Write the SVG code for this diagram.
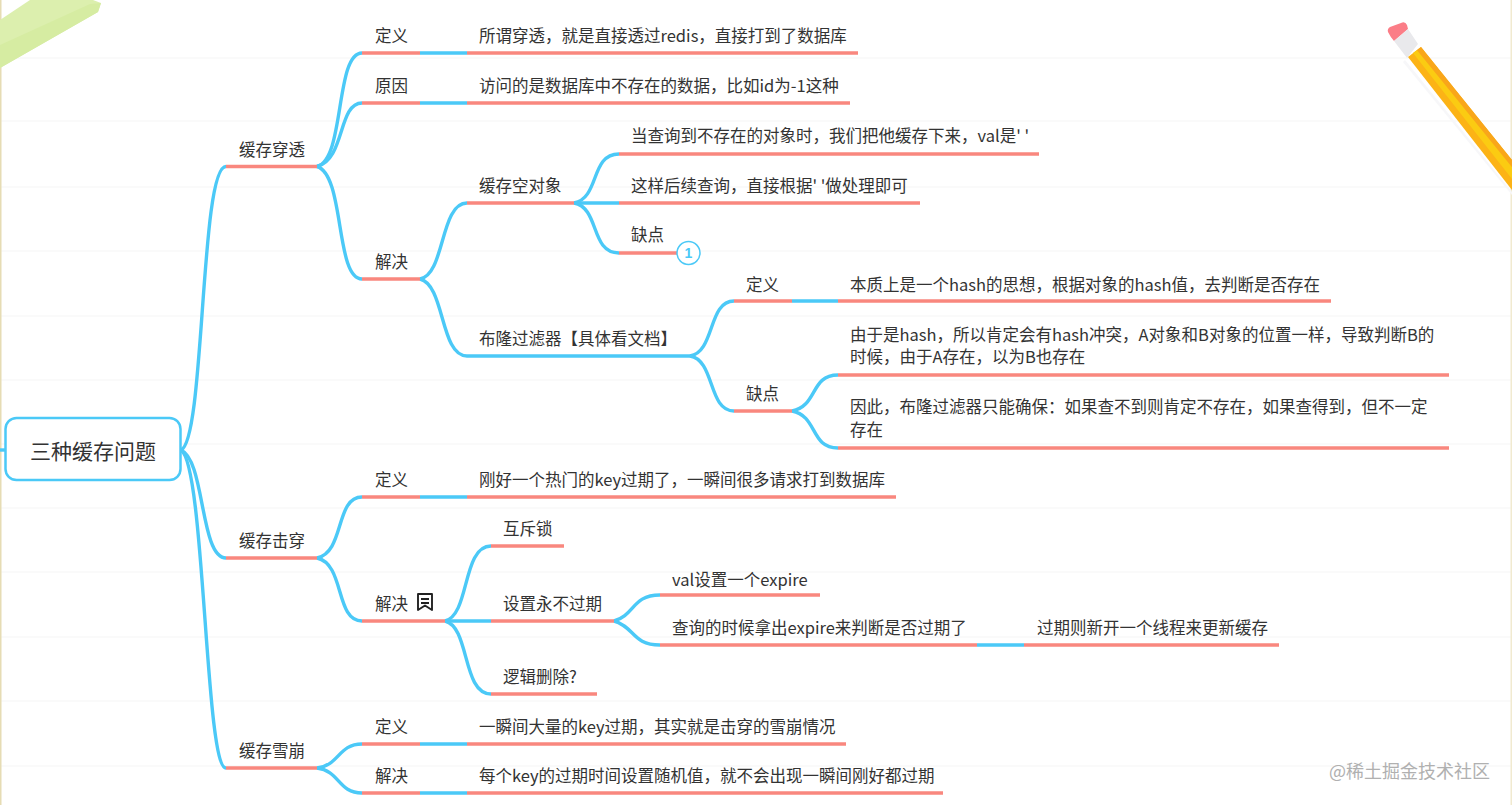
<svg xmlns="http://www.w3.org/2000/svg" width="1512" height="805" viewBox="0 0 1512 805">
<style>
text{font-family:"Noto Sans CJK SC","Liberation Sans",sans-serif;font-size:16.5px;fill:#333}
g[id^=n] text{transform:translateY(.8px)}
.c,.b,.r{fill:none;stroke-width:3.4}
.c,.b{stroke:#4bc9f7}
.r{stroke:#f9877e}
.g{stroke:#fafafa;stroke-width:2}
</style>
<rect width="1512" height="805" fill="#fff"/>
<g id="paper">
<path class="g" d="M0 58H1512M0 121H1512M0 187H1512M0 251H1512M0 316H1512M0 380H1512M0 444H1512M0 508H1512M0 572H1512M0 637H1512M0 701H1512M0 766H1512"/>
<rect x="0" y="0" width="1.500" height="805" fill="#e6dcb4"/>
<rect x="1510.500" y="0" width="1.500" height="805" fill="#f1ead0"/>
<path d="M0 20L30 0H93L101 3L98 12L0 68Z" fill="#dcefae"/>
<path d="M0 45L90 4L101 3L98 12L0 68Z" fill="#d6eca2"/>
<path d="M1405 60L1512 192V195L1403 62Z" fill="#f7f7f9"/>
<path d="M1388 32Q1387 29 1390 27L1401 23Q1405 21 1407 25L1408 29L1394 41Q1391 38 1388 32Z" fill="#fb7d87"/>
<path d="M1394 41L1408 29L1418 44L1407 58Z" fill="#e9e9ec"/>
<path d="M1408 57L1421 47L1512 160V190Z" fill="#fcb316"/>
<path d="M1413 53L1417 50L1512 167V179Z" fill="#fbcb12"/>
<path d="M1417 50L1421 47L1512 160V167Z" fill="#f9a61a"/>
</g>
<g id="connectors">
<path class="c" d="M181 450C205 440 200 166 226 166.500"/>
<path class="c" d="M181 450C205 460 200 558 226 558"/>
<path class="c" d="M181 450C205 465 205 768 226 768"/>
<path class="c" d="M0 450H5"/>
<path class="c" d="M317 166.500C345 160 335 53 362 53"/>
<path class="c" d="M317 166.500C345 160 338 103 362 103"/>
<path class="c" d="M317 166.500C345 175 335 279 362 279"/>
<path class="c" d="M420 279C445 275 440 203 467 203"/>
<path class="c" d="M420 279C445 285 440 356 467 356"/>
<path class="c" d="M574 203C600 198 590 154 619 154"/>
<path class="c" d="M574 203H619"/>
<path class="c" d="M574 203C600 208 590 253 619 253"/>
<path class="c" d="M690 356C715 352 708 301 734 301"/>
<path class="c" d="M690 356C715 360 708 411 734 411"/>
<path class="c" d="M792 411C818 406 810 375 838 375"/>
<path class="c" d="M792 411C818 416 810 448 838 448"/>
<path class="c" d="M317 558C345 552 335 497 362 497"/>
<path class="c" d="M317 558C345 564 335 621 362 621"/>
<path class="c" d="M445 621C470 615 462 546 491 546"/>
<path class="c" d="M445 621H491"/>
<path class="c" d="M445 621C470 627 462 694 491 694"/>
<path class="c" d="M614 621C635 615 632 595 660 595"/>
<path class="c" d="M614 621C635 627 632 645 660 645"/>
<path class="c" d="M317 768C340 765 338 744 362 744"/>
<path class="c" d="M317 768C340 771 338 793 362 793"/>
<path class="b" d="M420 53H467M420 103H467M792 301H838M977 645H1024M420 497H467M420 744H467M420 793H467"/>
</g>
<g id="root"><rect x="5.500" y="418" width="175" height="62" rx="11" fill="#fff" stroke="#4bc9f7" stroke-width="2.500"/><text x="93" y="459" text-anchor="middle" style="font-size:21px">三种缓存问题</text></g>
<g id="n1"><path class="r" d="M226 166.500H317"/><text x="239" y="155">缓存穿透</text></g>
<g id="n2"><path class="r" d="M362 53H420"/><text x="375" y="41">定义</text></g>
<g id="n3"><path class="r" d="M467 53H858"/><text x="479" y="41">所谓穿透，就是直接透过redis，直接打到了数据库</text></g>
<g id="n4"><path class="r" d="M362 103H420"/><text x="375" y="91">原因</text></g>
<g id="n5"><path class="r" d="M467 103H850"/><text x="479" y="91">访问的是数据库中不存在的数据，比如id为-1这种</text></g>
<g id="n6"><path class="r" d="M362 279H420"/><text x="375" y="267">解决</text></g>
<g id="n7"><path class="r" d="M467 203H574"/><text x="479" y="191">缓存空对象</text></g>
<g id="n8"><path class="r" d="M619 154H1039"/><text x="631" y="141">当查询到不存在的对象时，我们把他缓存下来，val是' '</text></g>
<g id="n9"><path class="r" d="M619 203H920"/><text x="631" y="191">这样后续查询，直接根据' '做处理即可</text></g>
<g id="n10"><path class="r" d="M619 253H677"/><text x="631" y="240">缺点</text><circle cx="688.500" cy="253" r="11.500" fill="#fff" stroke="#4bc9f7" stroke-width="1.500"/><text x="688.500" y="257.200" text-anchor="middle" style="font-size:14px;font-weight:700;fill:#4bc9f7;font-family:'Liberation Sans',sans-serif">1</text></g>
<g id="n11"><path class="c" d="M467 356H690"/><text x="479" y="344">布隆过滤器【具体看文档】</text></g>
<g id="n12"><path class="r" d="M734 301H792"/><text x="746" y="290">定义</text></g>
<g id="n13"><path class="r" d="M838 301H1331"/><text x="850" y="290">本质上是一个hash的思想，根据对象的hash值，去判断是否存在</text></g>
<g id="n14"><path class="r" d="M734 411H792"/><text x="746" y="399">缺点</text></g>
<g id="n15"><path class="r" d="M838 375H1449"/><text x="850" y="340">由于是hash，所以肯定会有hash冲突，A对象和B对象的位置一样，导致判断B的</text><text x="850" y="362">时候，由于A存在，以为B也存在</text></g>
<g id="n16"><path class="r" d="M838 448H1449"/><text x="850" y="412">因此，布隆过滤器只能确保：如果查不到则肯定不存在，如果查得到，但不一定</text><text x="850" y="435">存在</text></g>
<g id="n17"><path class="r" d="M226 558H317"/><text x="239" y="546">缓存击穿</text></g>
<g id="n18"><path class="r" d="M362 497H420"/><text x="375" y="485">定义</text></g>
<g id="n19"><path class="r" d="M467 497H896"/><text x="479" y="485">刚好一个热门的key过期了，一瞬间很多请求打到数据库</text></g>
<g id="n20"><path class="r" d="M362 621H445"/><text x="375" y="609">解决</text><path d="M418 594H432V610L425 605.500L418 610ZM421 599H429M421 603H429" fill="none" stroke="#222" stroke-width="1.900" stroke-linejoin="round"/></g>
<g id="n21"><path class="r" d="M491 546H564"/><text x="503" y="534">互斥锁</text></g>
<g id="n22"><path class="r" d="M491 621H614"/><text x="503" y="609">设置永不过期</text></g>
<g id="n23"><path class="r" d="M491 694H597"/><text x="503" y="682">逻辑删除?</text></g>
<g id="n24"><path class="r" d="M660 595H820"/><text x="672" y="585">val设置一个expire</text></g>
<g id="n25"><path class="r" d="M660 645H977"/><text x="672" y="633">查询的时候拿出expire来判断是否过期了</text></g>
<g id="n26"><path class="r" d="M1024 645H1279"/><text x="1037" y="633">过期则新开一个线程来更新缓存</text></g>
<g id="n27"><path class="r" d="M226 768H317"/><text x="239" y="756">缓存雪崩</text></g>
<g id="n28"><path class="r" d="M362 744H420"/><text x="375" y="732">定义</text></g>
<g id="n29"><path class="r" d="M467 744H846"/><text x="479" y="732">一瞬间大量的key过期，其实就是击穿的雪崩情况</text></g>
<g id="n30"><path class="r" d="M362 793H420"/><text x="375" y="781">解决</text></g>
<g id="n31"><path class="r" d="M467 793H943"/><text x="479" y="781">每个key的过期时间设置随机值，就不会出现一瞬间刚好都过期</text></g>
<text x="1329" y="778" style="font-size:18px;fill:#b0b0b0">@稀土掘金技术社区</text>
</svg>
